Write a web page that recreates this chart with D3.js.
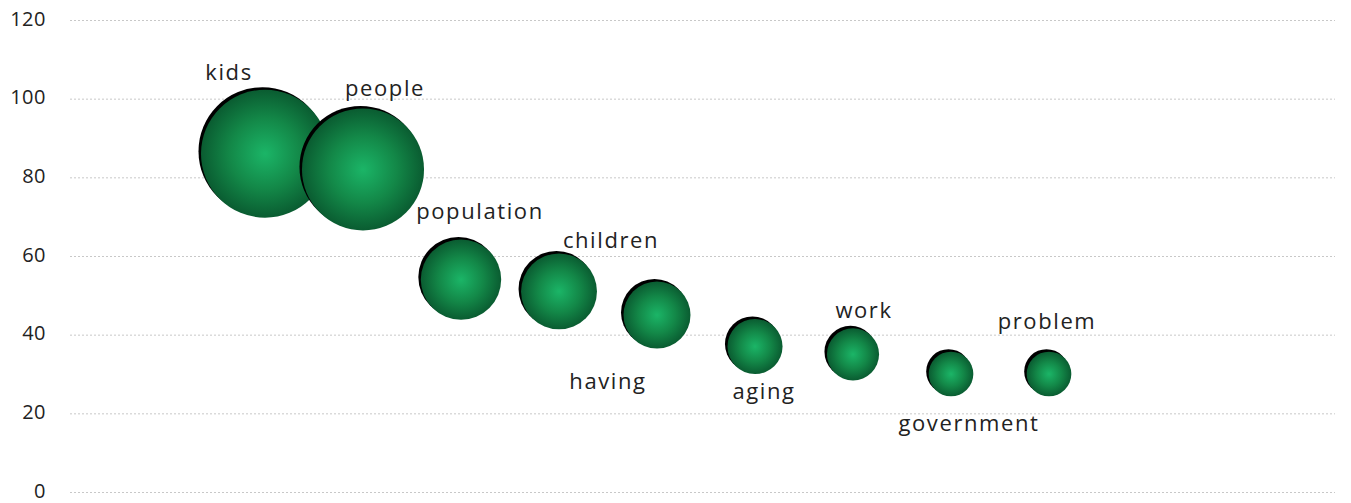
<!DOCTYPE html>
<html>
<head>
<meta charset="utf-8">
<script src="https://cdn.jsdelivr.net/npm/d3@7"></script>
<style>
  html, body { margin: 0; padding: 0; background: #fff; }
  svg { display: block; }
</style>
</head>
<body>
<svg id="chart" width="1351" height="503"></svg>
<script>
// Word frequencies: each word is a bubble, its height and its radius both show the count
const words  = ["kids", "people", "population", "children", "having", "aging", "work", "government", "problem"];
const counts = [86, 82, 54, 51, 45, 37, 35, 30, 30];
const yTicks = [0, 20, 40, 60, 80, 100, 120];

// Label placement around each bubble (pixel offsets from the bubble centre)
const labelDx = [-36, 22, 19, 52, -49, 9, 11, 18, -2];
const labelDy = [-74, -73, -61, -43, 74, 53, -36, 57, -45];

const width = 1351, height = 503;
const margin = { left: 70, right: 16, top: 20, bottom: 11 };
const fontStack = "\"Century Gothic\", \"Open Sans\", sans-serif";

const svg = d3.select("#chart");

const x = d3.scaleLinear()
  .domain([0, 13])
  .range([69, 69 + 98 * 13]);

const y = d3.scaleLinear()
  .domain([0, 120])
  .range([height - margin.bottom, margin.top]);

const r = d3.scaleLinear()
  .domain([0, 86])
  .range([0, 64]);

// Radial fill used by every bubble
const defs = svg.append("defs");
const grad = defs.append("radialGradient")
  .attr("id", "bubbleFill")
  .attr("cx", "50%").attr("cy", "50%").attr("r", "50%");
grad.append("stop").attr("offset", "0%").attr("stop-color", "#1bb567");
grad.append("stop").attr("offset", "55%").attr("stop-color", "#138848");
grad.append("stop").attr("offset", "100%").attr("stop-color", "#0a5c31");

// Horizontal dotted gridlines with value labels on the left
const yAxis = d3.axisLeft(y)
  .tickValues(yTicks)
  .tickSize(-(width - margin.left - margin.right))
  .tickPadding(22);

const gy = svg.append("g")
  .attr("transform", `translate(${margin.left},0)`)
  .call(yAxis);
gy.select(".domain").remove();
gy.selectAll(".tick line")
  .attr("stroke", "#c8c8c8")
  .attr("stroke-width", 1)
  .attr("stroke-dasharray", "2,2");
gy.selectAll(".tick text")
  .attr("fill", "#222")
  .attr("font-family", fontStack)
  .attr("font-size", 20)
  .attr("letter-spacing", 0.5)
  .attr("text-anchor", "end")
  .attr("dy", "0.25em")
  .attr("x", -24);

const data = words.map((w, i) => ({ word: w, count: counts[i], i }));

const bubbles = svg.append("g")
  .selectAll("g")
  .data(data)
  .join("g")
  .attr("transform", d => `translate(${x(d.i + 2)},${y(d.count)})`);

// dark rim peeking out at the upper left
bubbles.append("circle")
  .attr("cx", -2.5).attr("cy", -2.5)
  .attr("r", d => r(d.count))
  .attr("fill", "#000");

bubbles.append("circle")
  .attr("r", d => r(d.count))
  .attr("fill", "url(#bubbleFill)");

svg.append("g")
  .selectAll("text")
  .data(data)
  .join("text")
  .attr("x", d => x(d.i + 2) + labelDx[d.i])
  .attr("y", d => y(d.count) + labelDy[d.i])
  .attr("text-anchor", "middle")
  .attr("font-family", fontStack)
  .attr("font-size", 22)
  .attr("letter-spacing", 1.6)
  .attr("fill", "#222")
  .text(d => d.word);
</script>
</body>
</html>
